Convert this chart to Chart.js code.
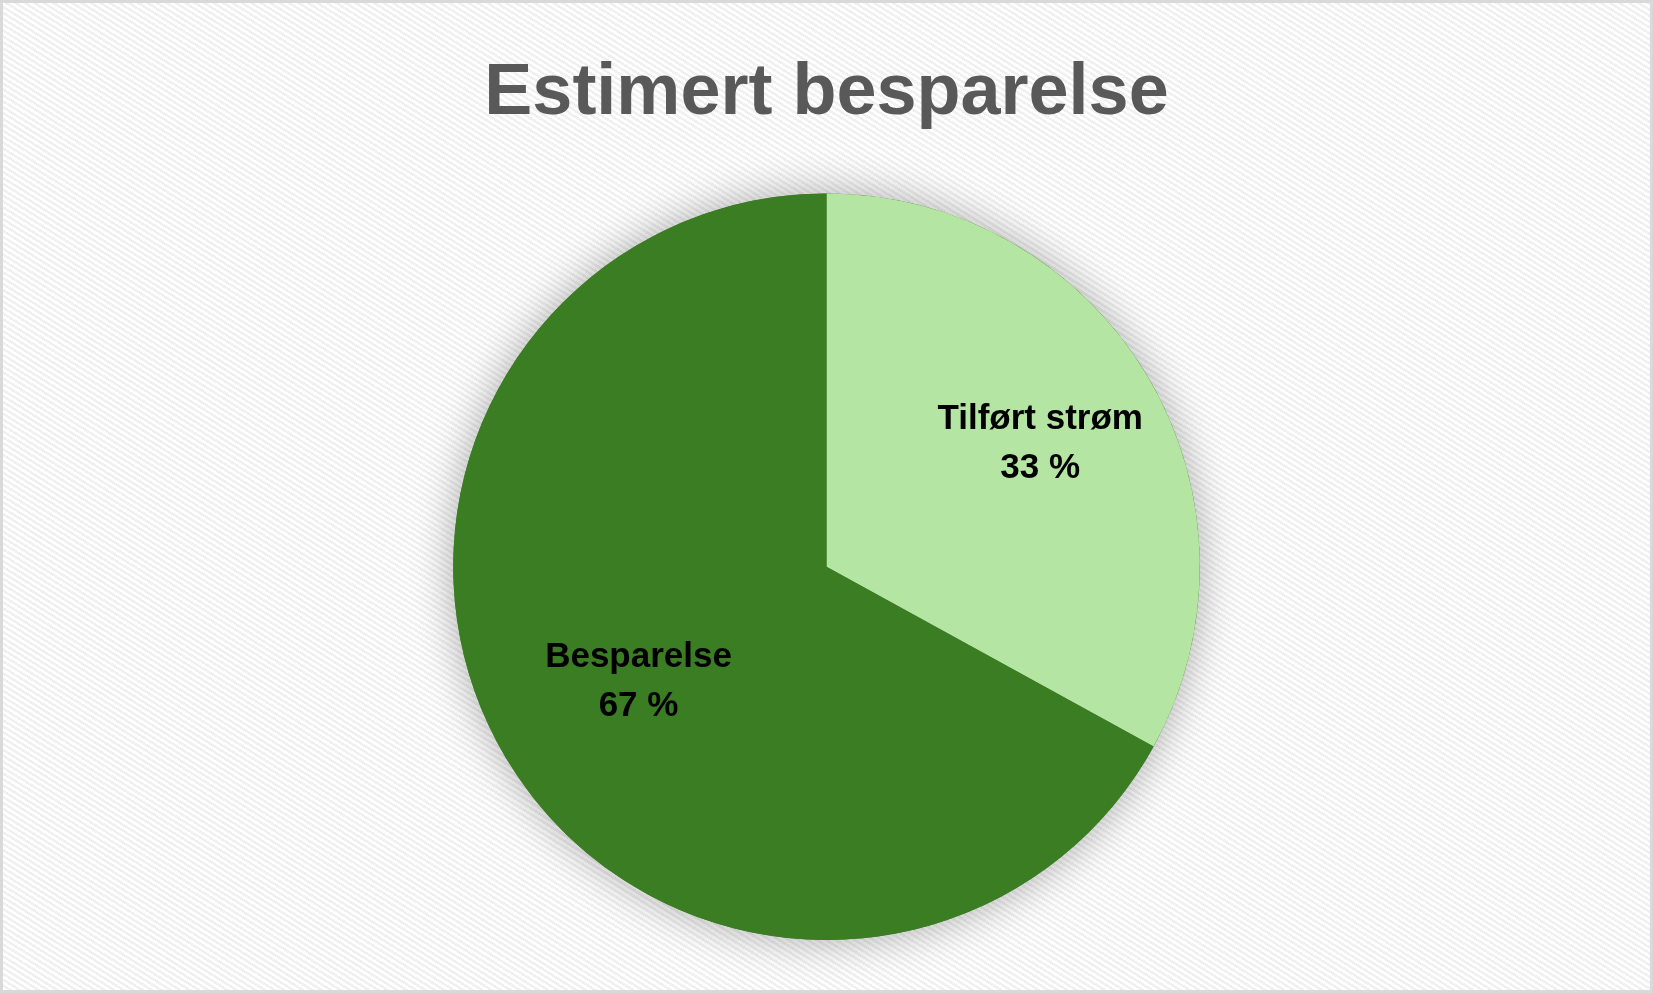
<!DOCTYPE html>
<html lang="no">
<head>
    <meta charset="UTF-8">
    <title>Estimert besparelse</title>
    <script src="https://cdn.jsdelivr.net/npm/chart.js"></script>
    <style>
        html, body { margin: 0; padding: 0; }
        .ramme {
            box-sizing: border-box;
            width: 1653px;
            height: 993px;
            border: 3px solid #d9d9d9;
            background-color: #ffffff;
            background-image: repeating-linear-gradient(32deg, #ffffff 0px, #ffffff 2.5px, #f0f0f0 2.5px, #f0f0f0 5px);
        }
        canvas { display: block; }
    </style>
</head>
<body>
    <div class="ramme">
        <canvas id="kake" width="1647" height="987"></canvas>
    </div>

    <script>
        // Data
        const kategorier = ['Tilført strøm', 'Besparelse'];
        const andeler = [33, 67];
        const farger = ['#b5e5a3', '#3b7d23'];

        // hvor langt ut etikettene står (andel av radius)
        const etikettAvstand = [0.665, 0.585];

        // Myk skygge rundt kaka
        const skygge = {
            id: 'skygge',
            beforeDatasetsDraw(chart) {
                const bue = chart.getDatasetMeta(0).data[0];
                if (!bue) return;
                const ctx = chart.ctx;
                ctx.save();
                ctx.shadowColor = 'rgba(0, 0, 0, 0.32)';
                ctx.shadowBlur = 42;
                ctx.beginPath();
                ctx.arc(bue.x, bue.y, bue.outerRadius, 0, Math.PI * 2);
                ctx.fillStyle = farger[1];
                ctx.fill();
                ctx.restore();
            }
        };

        // Etiketter inne i stykkene
        const etiketter = {
            id: 'etiketter',
            afterDatasetsDraw(chart) {
                const ctx = chart.ctx;
                const total = andeler.reduce((a, b) => a + b, 0);
                ctx.save();
                ctx.fillStyle = '#000000';
                ctx.font = 'bold 35px "Liberation Sans", Arial, sans-serif';
                ctx.textAlign = 'center';
                ctx.textBaseline = 'middle';
                chart.getDatasetMeta(0).data.forEach((bue, i) => {
                    const midt = (bue.startAngle + bue.endAngle) / 2;
                    const r = bue.outerRadius * etikettAvstand[i];
                    const x = bue.x + Math.cos(midt) * r;
                    const y = bue.y + Math.sin(midt) * r;
                    const prosent = Math.round(andeler[i] / total * 100) + ' %';
                    ctx.fillText(kategorier[i], x, y - 21);
                    ctx.fillText(prosent, x, y + 28);
                });
                ctx.restore();
            }
        };

        new Chart(document.getElementById('kake'), {
            type: 'pie',
            data: {
                labels: kategorier,
                datasets: [{
                    data: andeler,
                    backgroundColor: farger,
                    borderWidth: 0
                }]
            },
            options: {
                responsive: false,
                animation: false,
                layout: { padding: { top: 0, bottom: 50, left: 0, right: 0 } },
                plugins: {
                    legend: { display: false },
                    tooltip: { enabled: false },
                    title: {
                        display: true,
                        text: 'Estimert besparelse',
                        color: '#595959',
                        font: { family: '"Liberation Sans", Arial, sans-serif', size: 72, weight: 'bold', lineHeight: 1.2 },
                        padding: { top: 48, bottom: 56 }
                    }
                }
            },
            plugins: [skygge, etiketter]
        });
    </script>
</body>
</html>
